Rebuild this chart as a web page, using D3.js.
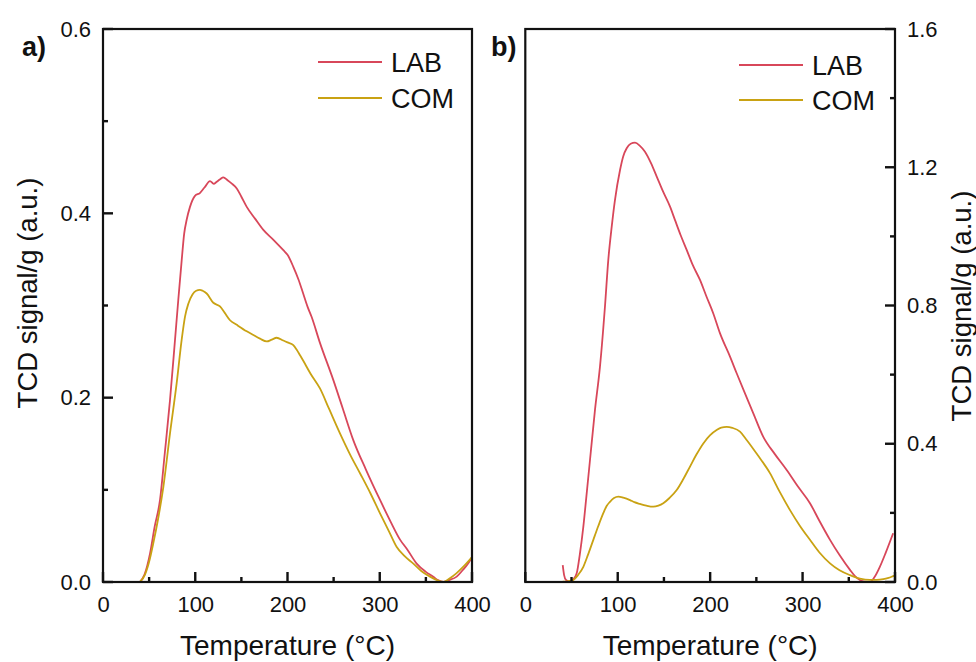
<!DOCTYPE html>
<html>
<head>
<meta charset="utf-8">
<script src="https://cdn.jsdelivr.net/npm/d3@7"></script>
<style>
  html, body { margin: 0; padding: 0; background: #fff; }
  svg { display: block; font-family: "Liberation Sans", Arial, sans-serif; }
</style>
</head>
<body>
<svg id="chart" width="976" height="662"></svg>
<script>
// TPD profiles: [temperature °C, TCD signal/g]
const seriesNames = ["LAB", "COM"];

const labA = [[40,0],[45,0.008],[51,0.031],[56,0.06],[61.8,0.089],[67,0.14],[72.6,0.197],[78,0.262],[81.6,0.306],[85.3,0.349],[88,0.378],[90.7,0.393],[94.3,0.407],[99.7,0.419],[105,0.422],[110,0.428],[116,0.435],[120,0.432],[123,0.434],[127,0.437],[130.4,0.439],[135,0.436],[140,0.432],[145,0.427],[150,0.418],[155.8,0.407],[165,0.394],[173.8,0.382],[185,0.371],[195.5,0.36],[200,0.355],[206.3,0.342],[212,0.328],[217,0.313],[222,0.298],[226,0.288],[235,0.26],[249.7,0.219],[260,0.188],[271.3,0.154],[285,0.122],[300.3,0.089],[312,0.065],[322,0.046],[330,0.035],[340,0.02],[350,0.011],[358,0.0058],[363,0.002],[369,0],[375,0.002],[383.4,0.0058],[390,0.013],[395,0.019],[400,0.027]];

const comA = [[40,0],[45.5,0.008],[50,0.022],[54.5,0.042],[60,0.07],[65.4,0.103],[72.6,0.161],[79.9,0.216],[85.3,0.263],[88.9,0.288],[92.5,0.302],[97,0.312],[101,0.316],[105,0.317],[108,0.316],[112.4,0.313],[119.6,0.303],[126.8,0.299],[132,0.292],[137.7,0.284],[145,0.279],[155.8,0.272],[163,0.268],[170.2,0.264],[177.5,0.261],[183,0.263],[188.2,0.265],[195.5,0.262],[200,0.26],[206.3,0.257],[210,0.252],[213.6,0.246],[217.1,0.24],[225,0.226],[235.2,0.21],[245,0.188],[257,0.161],[268,0.138],[278.6,0.118],[290,0.096],[300.3,0.0745],[310,0.055],[318.4,0.038],[327,0.028],[336.4,0.02],[345,0.012],[354.5,0.0058],[362,0.002],[369,0],[376,0.004],[383,0.0094],[392,0.018],[400,0.027]];

const labB = [[40.5,0.049],[42,0.02],[44,0.006],[48.4,0],[52,0.008],[55.6,0.025],[59,0.08],[62.8,0.16],[66,0.245],[70,0.353],[75.4,0.498],[80.8,0.623],[86.2,0.797],[89.8,0.932],[93.5,1.028],[97,1.105],[102.5,1.192],[106,1.232],[109.7,1.255],[114,1.268],[118.7,1.271],[124,1.262],[129.5,1.245],[136,1.212],[142.2,1.173],[149,1.13],[156.6,1.086],[162,1.047],[168,1.004],[174.6,0.961],[181,0.918],[189,0.874],[196,0.826],[203.4,0.777],[210.6,0.72],[221.5,0.652],[228.7,0.604],[237,0.55],[246.7,0.488],[257.5,0.42],[270,0.37],[282.8,0.324],[295,0.276],[308,0.228],[318,0.178],[329.7,0.122],[340,0.078],[351.3,0.035],[357,0.016],[362,0.006],[367,0.001],[372.8,0],[378,0.015],[383.6,0.044],[390,0.085],[398,0.141]];

const comB = [[40.5,0.001],[46,0.002],[52,0.006],[57,0.02],[62.8,0.044],[68,0.08],[73.6,0.122],[79,0.162],[84.4,0.199],[88,0.22],[91.6,0.232],[96,0.243],[100.6,0.247],[106,0.244],[113.3,0.237],[118,0.231],[124,0.226],[131,0.221],[138.5,0.218],[144,0.221],[149.3,0.228],[156,0.243],[163.8,0.266],[171,0.298],[178.2,0.334],[185,0.368],[192.6,0.401],[200,0.425],[207,0.44],[212,0.447],[217.9,0.449],[224,0.446],[232.3,0.435],[239.5,0.411],[252,0.365],[264.7,0.315],[275,0.262],[286.4,0.208],[297,0.163],[308,0.122],[318,0.086],[329.7,0.054],[340,0.034],[351.3,0.02],[362,0.01],[372.9,0.006],[380,0.006],[387.3,0.008],[393,0.012],[398,0.017],[400,0.019]];

const xMajor = [0, 100, 200, 300, 400];
const xMinor = [50, 150, 250, 350];
const yMajorA = [0, 0.2, 0.4, 0.6];
const yMinorA = [0.1, 0.3, 0.5];
const yMajorB = [0, 0.4, 0.8, 1.2, 1.6];
const yMinorB = [0.2, 0.6, 1.0, 1.4];

const colors = { LAB: "#d8475a", COM: "#c9a213" };
const ink = "#111";

const svg = d3.select("#chart");

const panels = [
  { id: "a", label: "a)", left: 103, right: 472, yMax: 0.6, yMajor: yMajorA, yMinor: yMinorA,
    side: "left", series: [labA, comA], legendX: 318, legendY: [62, 98], labelX: 22,
    titleX: 37, titleY: 293 },
  { id: "b", label: "b)", left: 525.3, right: 895, yMax: 1.6, yMajor: yMajorB, yMinor: yMinorB,
    side: "right", series: [labB, comB], legendX: 739, legendY: [65, 100], labelX: 491,
    titleX: 971, titleY: 306 }
];
const plotTop = 29, plotBottom = 582;
const majorLen = 10, minorLen = 5;

panels.forEach(p => {
  const x = d3.scaleLinear().domain([0, 400]).range([p.left, p.right]);
  const y = d3.scaleLinear().domain([0, p.yMax]).range([plotBottom, plotTop]);
  const g = svg.append("g").attr("class", "panel-" + p.id);

  g.append("clipPath").attr("id", "clip-" + p.id)
    .append("rect").attr("x", p.left).attr("y", plotTop)
    .attr("width", p.right - p.left).attr("height", plotBottom - plotTop);

  // curves
  const line = d3.line().x(d => x(d[0])).y(d => y(d[1])).curve(d3.curveMonotoneX);
  p.series.forEach((s, i) => {
    g.append("path").datum(s)
      .attr("clip-path", `url(#clip-${p.id})`)
      .attr("fill", "none")
      .attr("stroke", colors[seriesNames[i]])
      .attr("stroke-width", 1.8)
      .attr("stroke-linejoin", "round")
      .attr("d", line);
  });

  // tick labels through d3 axes (marks drawn separately, pointing inward)
  g.append("g").attr("transform", `translate(0,${plotBottom})`)
    .call(d3.axisBottom(x).tickValues(xMajor).tickSize(0).tickPadding(14)
      .tickFormat(d3.format("d")));

  const yPos = p.side === "left" ? p.left : p.right;
  const dir = p.side === "left" ? 1 : -1;
  const mk = p.side === "left" ? d3.axisLeft : d3.axisRight;
  g.append("g").attr("transform", `translate(${yPos},0)`)
    .call(mk(y).tickValues(p.yMajor).tickSize(0).tickPadding(12).tickFormat(d3.format(".1f")));

  g.selectAll(".domain").remove();
  g.selectAll(".tick line").remove();
  g.selectAll(".tick text").attr("fill", ink).attr("font-size", 22)
    .attr("font-family", "'Liberation Sans', Arial, sans-serif");

  const ticks = g.append("g").attr("stroke", ink).attr("stroke-width", 2.4);
  [[xMajor, majorLen], [xMinor, minorLen]].forEach(([vals, len]) => {
    ticks.selectAll(null).data(vals).join("line")
      .attr("x1", d => x(d)).attr("x2", d => x(d))
      .attr("y1", plotBottom).attr("y2", plotBottom - len);
  });
  [[p.yMajor, majorLen], [p.yMinor, minorLen]].forEach(([vals, len]) => {
    ticks.selectAll(null).data(vals).join("line")
      .attr("x1", yPos).attr("x2", yPos + dir * len)
      .attr("y1", d => y(d)).attr("y2", d => y(d));
  });

  // frame
  g.append("rect").attr("x", p.left).attr("y", plotTop)
    .attr("width", p.right - p.left).attr("height", plotBottom - plotTop)
    .attr("fill", "none").attr("stroke", ink).attr("stroke-width", 2.2);

  // axis titles
  g.append("text").attr("x", (p.left + p.right) / 2).attr("y", 655)
    .attr("text-anchor", "middle").attr("font-size", 28).attr("fill", ink)
    .text("Temperature (°C)");
  g.append("text")
    .attr("transform", `translate(${p.titleX},${p.titleY}) rotate(-90)`)
    .attr("text-anchor", "middle").attr("font-size", 27.5).attr("fill", ink)
    .text("TCD signal/g (a.u.)");

  // panel label
  g.append("text").attr("x", p.labelX).attr("y", 56)
    .attr("font-size", 27).attr("font-weight", "bold").attr("fill", ink)
    .text(p.label);

  // legend
  seriesNames.forEach((name, i) => {
    const ly = p.legendY[i];
    g.append("line").attr("x1", p.legendX).attr("x2", p.legendX + 64)
      .attr("y1", ly).attr("y2", ly)
      .attr("stroke", colors[name]).attr("stroke-width", 2);
    g.append("text").attr("x", p.legendX + 73).attr("y", ly).attr("dy", "0.37em")
      .attr("font-size", 27).attr("fill", ink).text(name);
  });
});
</script>
</body>
</html>
